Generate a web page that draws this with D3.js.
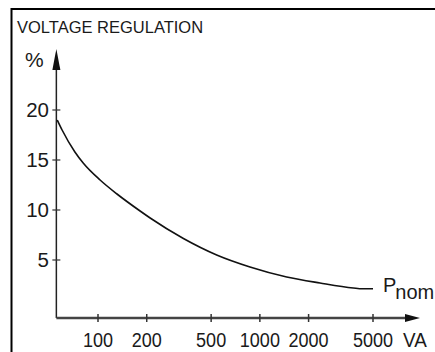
<!DOCTYPE html>
<html>
<head>
<meta charset="utf-8">
<script src="https://cdn.jsdelivr.net/npm/d3@7"></script>
<style>
    html, body { margin: 0; padding: 0; background: #fff; }
    svg { display: block; font-family: 'Liberation Sans', Arial, sans-serif; }
    text { fill: #1a1a1a; }
</style>
</head>
<body>
<div id="chartArea"></div>
<script>
// values: power (VA) vs. regulation (%)
var powerVA = [56, 60, 72, 81, 103, 131, 182, 210, 337, 541, 869, 1465, 2352, 3780, 4300, 5000];
var regulation = [19.0, 18.0, 15.8, 14.7, 13.0, 11.6, 9.9, 9.2, 7.15, 5.5, 4.3, 3.3, 2.7, 2.2, 2.12, 2.12];

var xTicks = [100, 200, 500, 1000, 2000, 5000];
var yTicks = [5, 10, 15, 20];

var title = 'VOLTAGE REGULATION';
var yUnit = '%';
var xUnit = 'VA';

var w = 435, h = 352;

var svg = d3.select('#chartArea').append('svg')
    .attr('width', w)
    .attr('height', h);

// outer frame (only top and left edges are inside the picture)
svg.append('rect')
    .attr('x', 11.5)
    .attr('y', 9)
    .attr('width', 500)
    .attr('height', 400)
    .attr('fill', 'none')
    .attr('stroke', '#000')
    .attr('stroke-width', 2);

svg.append('text')
    .attr('x', 17)
    .attr('y', 33)
    .attr('font-size', 16.5)
    .text(title);

var xScale = d3.scaleLog()
    .domain([100, 5000])
    .range([98, 373]);

var yScale = d3.scaleLinear()
    .domain([0, 20])
    .range([310, 110]);

var x0 = xScale(55.3);   // where the y axis stands
var axisY = 318;         // x axis sits a little below 0 %

// y axis with arrow
svg.append('line')
    .attr('x1', x0).attr('x2', x0)
    .attr('y1', axisY).attr('y2', 66)
    .attr('stroke', '#222')
    .attr('stroke-width', 1.5);

svg.append('path')
    .attr('d', 'M' + x0 + ',49 L' + (x0 - 4) + ',70 L' + (x0 + 4) + ',70 Z')
    .attr('fill', '#111');

svg.append('text')
    .attr('x', 25)
    .attr('y', 67)
    .attr('font-size', 21)
    .text(yUnit);

svg.selectAll('.ytick')
    .data(yTicks)
    .enter()
    .append('line')
    .attr('class', 'ytick')
    .attr('x1', x0 - 4).attr('x2', x0 + 4)
    .attr('y1', function(d) { return yScale(d); })
    .attr('y2', function(d) { return yScale(d); })
    .attr('stroke', '#333')
    .attr('stroke-width', 1.2);

svg.selectAll('.ylabel')
    .data(yTicks)
    .enter()
    .append('text')
    .attr('class', 'ylabel')
    .attr('x', 49)
    .attr('y', function(d) { return yScale(d); })
    .attr('dy', '0.36em')
    .attr('text-anchor', 'end')
    .attr('font-size', 20.5)
    .text(function(d) { return d; });

// x axis with arrow
svg.append('line')
    .attr('x1', x0).attr('x2', 408)
    .attr('y1', axisY).attr('y2', axisY)
    .attr('stroke', '#444')
    .attr('stroke-width', 2.5);

svg.append('path')
    .attr('d', 'M420,' + axisY + ' L405,' + (axisY - 4) + ' L405,' + (axisY + 4) + ' Z')
    .attr('fill', '#111');

svg.selectAll('.xtick')
    .data(xTicks)
    .enter()
    .append('line')
    .attr('class', 'xtick')
    .attr('x1', function(d) { return xScale(d); })
    .attr('x2', function(d) { return xScale(d); })
    .attr('y1', axisY - 4).attr('y2', axisY + 4)
    .attr('stroke', '#333')
    .attr('stroke-width', 1.5);

// narrow-looking labels under the x axis
svg.selectAll('.xlabel')
    .data(xTicks)
    .enter()
    .append('text')
    .attr('class', 'xlabel')
    .attr('transform', function(d) {
        return 'translate(' + xScale(d) + ',347) scale(0.86,1)';
    })
    .attr('text-anchor', 'middle')
    .attr('font-size', 21)
    .text(function(d) { return d; });

svg.append('text')
    .attr('transform', 'translate(403,347) scale(0.9,1)')
    .attr('font-size', 21)
    .text(xUnit);

// regulation curve
var line = d3.line()
    .x(function(d, i) { return xScale(d); })
    .y(function(d, i) { return yScale(regulation[i]); })
    .curve(d3.curveMonotoneX);

svg.append('path')
    .datum(powerVA)
    .attr('d', line)
    .attr('fill', 'none')
    .attr('stroke', '#111')
    .attr('stroke-width', 1.6);

var pLabel = svg.append('text')
    .attr('x', 383)
    .attr('y', 292)
    .attr('font-size', 20);
pLabel.append('tspan').text('P');
pLabel.append('tspan')
    .attr('dy', 7)
    .attr('dx', -1)
    .text('nom');
</script>
</body>
</html>
